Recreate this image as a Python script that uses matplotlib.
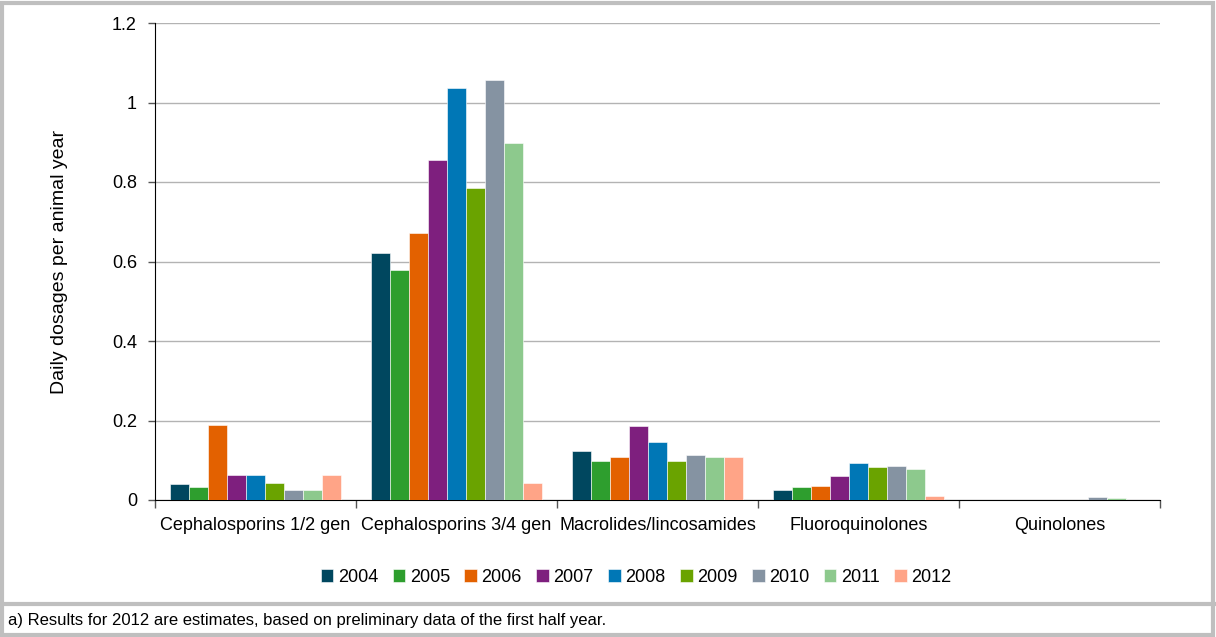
import numpy as np
import matplotlib
matplotlib.use("Agg")
import matplotlib.pyplot as plt
from matplotlib.patches import Rectangle
from matplotlib.lines import Line2D

plt.rcParams['font.family'] = ['Liberation Sans Narrow', 'Liberation Sans', 'DejaVu Sans']

categories = ['Cephalosporins 1/2 gen', 'Cephalosporins 3/4 gen', 'Macrolides/lincosamides',
              'Fluoroquinolones', 'Quinolones']
years = ['2004', '2005', '2006', '2007', '2008', '2009', '2010', '2011', '2012']

# values per year, one entry per category
v2004 = [0.039, 0.621, 0.123, 0.026, 0.0]
v2005 = [0.032, 0.579, 0.098, 0.033, 0.0]
v2006 = [0.189, 0.672, 0.109, 0.035, 0.0]
v2007 = [0.062, 0.855, 0.186, 0.060, 0.0]
v2008 = [0.062, 1.036, 0.146, 0.094, 0.0]
v2009 = [0.042, 0.785, 0.099, 0.084, 0.0]
v2010 = [0.025, 1.057, 0.114, 0.086, 0.008]
v2011 = [0.024, 0.898, 0.108, 0.079, 0.005]
v2012 = [0.062, 0.042, 0.108, 0.010, 0.0]
values = [v2004, v2005, v2006, v2007, v2008, v2009, v2010, v2011, v2012]

colors = ['#00475f', '#2e9e2e', '#e36100', '#7e1f7e', '#0077b6',
          '#6aa300', '#8593a2', '#8dc98d', '#ffa487']

fig = plt.figure(figsize=(12.16, 6.37), dpi=100)
ax = fig.add_axes([155/1216, 1 - 500/637, (1160 - 155)/1216, (500 - 23)/637])

x = np.arange(len(categories))
n = len(years)
w = 0.85 / n
for i, (yr, vals, c) in enumerate(zip(years, values, colors)):
    ax.bar(x + (i - (n - 1) / 2) * w, vals, width=w, color=c, label=yr,
           edgecolor='white', linewidth=0.4, zorder=3)

ax.set_xlim(-0.5, len(categories) - 0.5)
ax.set_ylim(0, 1.2)
ax.set_yticks([0, 0.2, 0.4, 0.6, 0.8, 1.0, 1.2])
ax.set_yticklabels(['0', '0.2', '0.4', '0.6', '0.8', '1', '1.2'], fontsize=13)
ax.yaxis.grid(True, color='#b3b3b3', linewidth=1, zorder=0)
ax.set_axisbelow(True)

ax.set_xticks(np.arange(len(categories) + 1) - 0.5)
ax.set_xticklabels([])
ax.set_xticks(x, minor=True)
ax.set_xticklabels(categories, minor=True, fontsize=13)
ax.tick_params(axis='x', which='minor', length=0, pad=12)
ax.tick_params(axis='x', which='major', length=6, width=1, color='#555555')
ax.tick_params(axis='y', length=5, width=1, color='#555555', pad=8)

for s in ['top', 'right']:
    ax.spines[s].set_visible(False)
ax.spines['left'].set_color('black')
ax.spines['bottom'].set_color('black')

ax.set_ylabel('Daily dosages per animal year', fontsize=14)
ax.yaxis.set_label_coords(-(155 - 68) / 1005, 0.5)

fig.legend(loc='center', bbox_to_anchor=(636/1216, 1 - 577/637), ncol=9, frameon=False,
           fontsize=13, handlelength=0.7, handleheight=0.7, handletextpad=0.25,
           columnspacing=0.8)

# outer frame and footnote separator
fig.add_artist(Rectangle((2/1216, 2/637), 1211/1216, 632/637, transform=fig.transFigure,
                         fill=False, edgecolor='#bfbfbf', linewidth=3))
fig.add_artist(Line2D([2/1216, 1214/1216], [1 - 604/637, 1 - 604/637],
                      transform=fig.transFigure, color='#bfbfbf', linewidth=3))
fig.text(8/1216, 1 - 621/637, 'a) Results for 2012 are estimates, based on preliminary data of the first half year.',
         fontsize=12, va='center', ha='left')

fig.savefig('out.png', dpi=100)
